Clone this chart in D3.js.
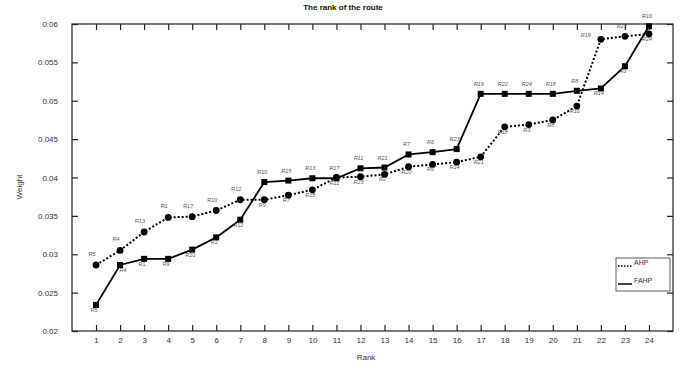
<!DOCTYPE html>
<html>
<head>
<meta charset="utf-8">
<script src="https://cdn.jsdelivr.net/npm/d3@7"></script>
<style>
  html, body { margin: 0; padding: 0; background: #fff; }
  svg { display: block; font-family: "Liberation Sans", Arial, sans-serif; }
</style>
</head>
<body>
<svg id="chart" width="682" height="371"></svg>
<script>
// Rank positions 1..24
const ranks = d3.range(1, 25);

// AHP weights by rank, with the route at each rank
const ahpValues = [0.0286, 0.0305, 0.0329, 0.0348, 0.0349, 0.0357, 0.0371, 0.0371,
                   0.0377, 0.0384, 0.0400, 0.0401, 0.0404, 0.0414, 0.0417, 0.0420,
                   0.0427, 0.0466, 0.0469, 0.0475, 0.0493, 0.0580, 0.0584, 0.0587];
const ahpRoutes = ["R5", "R4", "R13", "R1", "R17", "R10", "R12", "R9",
                   "R7", "R15", "R11", "R23", "R2", "R20", "R6", "R14",
                   "R21", "R18", "R3", "R8", "R16", "R19", "R22", "R24"];

// FAHP weights by rank, with the route at each rank
const fahpValues = [0.0234, 0.0286, 0.0294, 0.0294, 0.0306, 0.0322, 0.0345, 0.0394,
                    0.0396, 0.0399, 0.0399, 0.0412, 0.0413, 0.0430, 0.0433, 0.0437,
                    0.0509, 0.0509, 0.0509, 0.0509, 0.0513, 0.0516, 0.0545, 0.0597];
const fahpRoutes = ["R5", "R4", "R1", "R9", "R20", "R2", "R12", "R10",
                    "R15", "R13", "R17", "R11", "R21", "R7", "R6", "R23",
                    "R19", "R22", "R24", "R18", "R8", "R14", "R3", "R16"];

const yTicks = [0.02, 0.025, 0.03, 0.035, 0.04, 0.045, 0.05, 0.055, 0.06];

const chartTitle = "The rank of the route";
const xTitle = "Rank";
const yTitle = "Weight";

const svg = d3.select("#chart");
const plot = { left: 72, right: 673, top: 24, bottom: 331 };

const x = d3.scaleLinear().domain([0, 25]).range([plot.left, plot.right]);
const y = d3.scaleLinear().domain([0.02, 0.06]).range([plot.bottom, plot.top]);

const tickLen = 6;
const tickColor = "#222";

// Frame
svg.append("rect")
  .attr("x", plot.left).attr("y", plot.top)
  .attr("width", plot.right - plot.left).attr("height", plot.bottom - plot.top)
  .attr("fill", "none").attr("stroke", "#222").attr("stroke-width", 1.2);

// Bottom axis with inward ticks
const xAxis = d3.axisBottom(x).tickValues(ranks).tickSize(-tickLen).tickPadding(6)
  .tickFormat(d3.format("d"));
const gx = svg.append("g").attr("transform", `translate(0,${plot.bottom})`).call(xAxis);
gx.select(".domain").remove();
gx.selectAll("line").attr("stroke", tickColor).attr("stroke-width", 1.2);
gx.selectAll("text").attr("font-size", 8).attr("fill", "#333");

// Top mirrored ticks
const gxTop = svg.append("g").attr("transform", `translate(0,${plot.top})`)
  .call(d3.axisTop(x).tickValues(ranks).tickSize(-tickLen).tickFormat(""));
gxTop.select(".domain").remove();
gxTop.selectAll("line").attr("stroke", tickColor).attr("stroke-width", 1.2);

// Left axis
const yAxis = d3.axisLeft(y).tickValues(yTicks).tickSize(-tickLen).tickPadding(14)
  .tickFormat(d => String(+d.toFixed(3)));
const gy = svg.append("g").attr("transform", `translate(${plot.left},0)`).call(yAxis);
gy.select(".domain").remove();
gy.selectAll("line").attr("stroke", tickColor).attr("stroke-width", 1.2);
gy.selectAll("text").attr("font-size", 8).attr("fill", "#333");

// Right mirrored ticks
const gyR = svg.append("g").attr("transform", `translate(${plot.right},0)`)
  .call(d3.axisRight(y).tickValues(yTicks).tickSize(-tickLen).tickFormat(""));
gyR.select(".domain").remove();
gyR.selectAll("line").attr("stroke", tickColor).attr("stroke-width", 1.2);

// Titles
svg.append("text").attr("x", 343).attr("y", 10).attr("text-anchor", "middle")
  .attr("font-size", 8).attr("font-weight", "bold").attr("fill", "#111").text(chartTitle);
svg.append("text").attr("x", 366).attr("y", 360).attr("text-anchor", "middle")
  .attr("font-size", 8).attr("fill", "#333").text(xTitle);
svg.append("text").attr("transform", "translate(22,187) rotate(-90)")
  .attr("text-anchor", "middle").attr("font-size", 8).attr("fill", "#333").text(yTitle);

const ahp = ranks.map((r, i) => ({ r, v: ahpValues[i], label: ahpRoutes[i] }));
const fahp = ranks.map((r, i) => ({ r, v: fahpValues[i], label: fahpRoutes[i] }));

const line = d3.line().x(d => x(d.r)).y(d => y(d.v));

// AHP: dotted line with round markers
svg.append("path").datum(ahp).attr("d", line)
  .attr("fill", "none").attr("stroke", "#000").attr("stroke-width", 2)
  .attr("stroke-dasharray", "2,2");
svg.append("g").selectAll("circle").data(ahp).join("circle")
  .attr("cx", d => x(d.r)).attr("cy", d => y(d.v)).attr("r", 3.4).attr("fill", "#000");

// FAHP: solid line with square markers
svg.append("path").datum(fahp).attr("d", line)
  .attr("fill", "none").attr("stroke", "#000").attr("stroke-width", 1.8);
svg.append("g").selectAll("rect").data(fahp).join("rect")
  .attr("x", d => x(d.r) - 3).attr("y", d => y(d.v) - 3)
  .attr("width", 6).attr("height", 6).attr("fill", "#000");

// Route labels next to each marker
function placeAhp(d) {
  if (d.r <= 7) return { dx: -4, dy: -9 };
  if (d.r === 22) return { dx: -15, dy: -2 };
  if (d.r === 23) return { dx: -3, dy: -8 };
  return { dx: -2, dy: 7 };
}
function placeFahp(d) {
  if (d.r === 2) return { dx: 3, dy: 7 };
  if (d.r <= 7 || d.r === 22 || d.r === 23) return { dx: -2, dy: 7 };
  return { dx: -2, dy: -8 };
}
function drawLabels(data, place) {
  svg.append("g").selectAll("text").data(data).join("text")
    .attr("x", d => x(d.r) + place(d).dx)
    .attr("y", d => y(d.v) + place(d).dy)
    .attr("text-anchor", "middle")
    .attr("font-size", 5.5)
    .attr("font-style", d => d.r >= 9 ? "italic" : "normal")
    .attr("fill", "#555")
    .text(d => d.label);
}
drawLabels(ahp, placeAhp);
drawLabels(fahp, placeFahp);

// Legend
const lg = svg.append("g").attr("transform", "translate(616,258)");
lg.append("rect").attr("width", 54).attr("height", 33)
  .attr("fill", "#fff").attr("stroke", "#333").attr("stroke-width", 0.8);
lg.append("line").attr("x1", 2).attr("x2", 16).attr("y1", 8).attr("y2", 8)
  .attr("stroke", "#000").attr("stroke-width", 1.5).attr("stroke-dasharray", "1.5,1.5");
lg.append("text").attr("x", 18).attr("y", 7).attr("font-size", 7).attr("fill", "#333").text("AHP");
lg.append("line").attr("x1", 2).attr("x2", 16).attr("y1", 26).attr("y2", 26)
  .attr("stroke", "#000").attr("stroke-width", 1.5);
lg.append("text").attr("x", 18).attr("y", 25).attr("font-size", 7).attr("fill", "#333").text("FAHP");
</script>
</body>
</html>
